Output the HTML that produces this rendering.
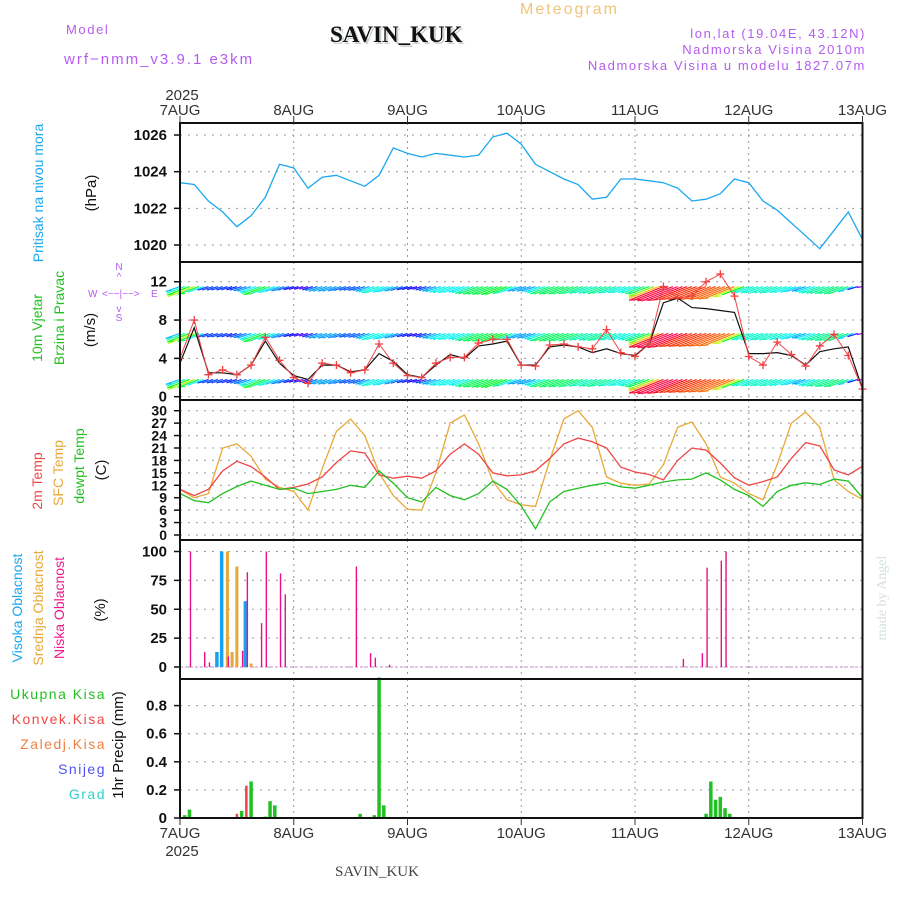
<!DOCTYPE html>
<html><head><meta charset="utf-8"><title>Meteogram SAVIN_KUK</title>
<style>
html,body{margin:0;padding:0;background:#fff;}
svg{display:block;font-family:"Liberation Sans",sans-serif;}
.tk{font-size:15px;fill:#111;text-anchor:end;font-weight:bold;}
.tkt{font-size:14px;fill:#111;text-anchor:end;font-weight:bold;}
.day{font-size:15px;fill:#333;text-anchor:middle;}
.pur{fill:#b45cf0;font-size:13px;letter-spacing:1.6px;}
</style></head>
<body>
<svg id="chart" width="900" height="900" viewBox="0 0 900 900">
  <text x="66" y="34" class="pur">Model</text>
  <text x="64" y="64" class="pur" style="font-size:15px;letter-spacing:2px">wrf−nmm_v3.9.1 e3km</text>
  <text x="520" y="14" style="font-size:16px;fill:#f2c37a;letter-spacing:2px">Meteogram</text>
  <text x="332" y="44" style="font-family:'Liberation Serif',serif;font-size:23px;font-weight:bold;fill:#c9d3c9">SAVIN_KUK</text>
  <text x="330" y="42" style="font-family:'Liberation Serif',serif;font-size:23px;font-weight:bold;fill:#111">SAVIN_KUK</text>
  <text x="866" y="38" class="pur" text-anchor="end">lon,lat (19.04E, 43.12N)</text>
  <text x="866" y="54" class="pur" text-anchor="end">Nadmorska Visina 2010m</text>
  <text x="866" y="70" class="pur" text-anchor="end">Nadmorska Visina u modelu 1827.07m</text>

  <text x="182" y="100" class="day">2025</text>

  <text transform="translate(43,193) rotate(-90)" text-anchor="middle" style="font-size:14px;fill:#1aa7f0">Pritisak na nivou mora</text>
  <text transform="translate(96,193) rotate(-90)" text-anchor="middle" style="font-size:15px;fill:#111">(hPa)</text>
  <text transform="translate(42,328) rotate(-90)" text-anchor="middle" style="font-size:14px;fill:#22c022">10m Vjetar</text>
  <text transform="translate(64,318) rotate(-90)" text-anchor="middle" style="font-size:14px;fill:#22c022">Brzina i Pravac</text>
  <text transform="translate(95,330) rotate(-90)" text-anchor="middle" style="font-size:15px;fill:#111">(m/s)</text>
  <g style="font-size:10px;fill:#b45cf0">
    <text x="119" y="270" text-anchor="middle">N</text>
    <text x="119" y="280" text-anchor="middle">^</text>
    <text x="88" y="297">W</text>
    <text x="102" y="297">&lt;−−|−−&gt;</text>
    <text x="151" y="297">E</text>
    <text x="119" y="312" text-anchor="middle">v</text>
    <text x="119" y="321" text-anchor="middle">S</text>
  </g>
  <text transform="translate(42,481) rotate(-90)" text-anchor="middle" style="font-size:14px;fill:#f04545">2m Temp</text>
  <text transform="translate(63,473) rotate(-90)" text-anchor="middle" style="font-size:14px;fill:#e8a838">SFC Temp</text>
  <text transform="translate(84,466) rotate(-90)" text-anchor="middle" style="font-size:14px;fill:#22c022">dewpt Temp</text>
  <text transform="translate(106,470) rotate(-90)" text-anchor="middle" style="font-size:15px;fill:#111">(C)</text>
  <text transform="translate(22,608) rotate(-90)" text-anchor="middle" style="font-size:14px;fill:#1aa7f0">Visoka Oblacnost</text>
  <text transform="translate(43,608) rotate(-90)" text-anchor="middle" style="font-size:14px;fill:#e8a838">Srednja Oblacnost</text>
  <text transform="translate(64,608) rotate(-90)" text-anchor="middle" style="font-size:14px;fill:#f0188c">Niska Oblacnost</text>
  <text transform="translate(105,610) rotate(-90)" text-anchor="middle" style="font-size:15px;fill:#111">(%)</text>
  <g style="font-size:14px;letter-spacing:1.5px" text-anchor="end">
    <text x="106" y="699" fill="#22c022">Ukupna  Kisa</text>
    <text x="106" y="724" fill="#f04545">Konvek.Kisa</text>
    <text x="106" y="749" fill="#f08040">Zaledj.Kisa</text>
    <text x="106" y="774" fill="#5050f0">Snijeg</text>
    <text x="106" y="799" fill="#30d0d0">Grad</text>
  </g>
  <text transform="translate(123,745) rotate(-90)" text-anchor="middle" style="font-size:15px;fill:#111">1hr Precip (mm)</text>
  <text transform="translate(886,598) rotate(-90)" text-anchor="middle" style="font-family:'Liberation Serif',serif;font-size:14px;fill:#d5e2d5">made by Angel</text>
  <text x="182" y="856" class="day">2025</text>
  <text x="377" y="876" text-anchor="middle" style="font-family:'Liberation Serif',serif;font-size:15px;fill:#444">SAVIN_KUK</text>

  <g id="grid"></g>
  <g id="marks"></g>
  <g id="frames"></g>
</svg>
<script>
const days = ["7AUG","8AUG","9AUG","10AUG","11AUG","12AUG","13AUG"];
const pressureTicks = [1020,1022,1024,1026];
const windTicks = [0,4,8,12];
const tempTicks = [0,3,6,9,12,15,18,21,24,27,30];
const cloudTicks = [0,25,50,75,100];
const precipTicks = [0,0.2,0.4,0.6,0.8];
const pressure = [1023.4,1023.3,1022.4,1021.8,1021.0,1021.6,1022.6,1024.4,1024.2,1023.1,1023.7,1023.8,1023.5,1023.2,1023.8,1025.3,1025.0,1024.8,1025.0,1024.9,1024.8,1024.9,1025.9,1026.1,1025.5,1024.4,1024.0,1023.6,1023.3,1022.5,1022.6,1023.6,1023.6,1023.5,1023.4,1023.1,1022.4,1022.5,1022.8,1023.6,1023.4,1022.4,1021.9,1021.2,1020.5,1019.8,1020.8,1021.8,1020.3];
const windGust = [4,8,2.3,2.8,2.3,3.3,6.2,3.8,2,1.4,3.5,3.3,2.5,2.8,5.5,3.5,2.2,2,3.5,4.1,4.1,5.6,6,6,3.3,3.2,5.4,5.5,5.2,5,7,4.6,4.2,5.5,11.5,10.3,10.5,12,12.8,10.5,4.2,3.3,5.7,4.4,3.2,5.3,6.5,4.3,0.8];
const windSpeed = [3.5,7.2,2.5,2.5,2.3,3.3,5.8,3.5,2.2,1.8,3.3,3.3,2.6,2.8,4.5,3.7,2.3,2,3.3,4.4,4,5.3,5.5,5.8,3.3,3.3,5.2,5.4,5.2,4.6,5,4.5,4.3,5.5,9.8,10.3,9.3,9.2,9,8.8,4.5,4.5,4.6,4.3,3.3,4.7,5,5.2,0.8];
const temp2m = [11,9.5,11,15.5,17.8,16.5,14,11,11.5,12.3,14,17.5,20.3,19.8,14.5,13.7,14.2,13.7,15.5,19.5,22,19.5,15,14.3,14.5,15.5,18.5,22,23.4,22.5,21,16.4,15.2,14.6,13.3,18,21,20.5,17.4,13.8,12,12.9,14,18.5,22.3,21.5,15.7,14.5,16.6];
const tempSfc = [11,9,10,21,22,19,13.5,11.5,10.5,6,16,25,28,24,15,9.5,6.2,6,15,27,29,22,13,8.5,7.3,6.9,18,28,30,26,14,12.5,12,12.3,17,26,27.3,22,14,12.5,10,8.5,17,27,29.7,26,13.3,10.5,8.6];
const tempDew = [10,8.3,7.8,10,11.7,13,12,11,11.3,10,10.5,11,12,11.5,15.5,12.5,9,8,11.5,9.5,8.5,10,13,11,7,1.5,8,10.5,11.3,12,12.6,11.6,11.3,12,12.8,13.3,13.5,15,13.3,11,9.5,6.9,10.5,12,12.6,12.2,13.5,13,9];
const lowCloudHours = [2,5,6,10,13,14,17,18,21,22,37,40,41,44,106,110,111,114,115];
const lowCloudVals = [100,13,4,9,14,82,38,100,81,63,87,12,8,2,7,12,86,92,100];
const midCloudHours = [10,11,12,15];
const midCloudVals = [100,13,87,3];
const highCloudHours = [8,9,14];
const highCloudVals = [13,100,57];
const rainHours = [1,2,13,15,18,19,20,38,41,42,43,111,112,113,114,115,116];
const rainVals = [0.02,0.06,0.05,0.26,0.01,0.12,0.09,0.03,0.02,1.0,0.09,0.03,0.26,0.13,0.15,0.07,0.03];
const convHours = [12,14];
const convVals = [0.03,0.23];

const NS="http://www.w3.org/2000/svg";
const X0=180, X1=862.5;
function xH(h){return X0+h*(X1-X0)/144;}
function yP(v){return 245-(v-1020)*18.33;}
function yW(v){return 396.7-v*9.58;}
function yT(v){return 535-v*4.143;}
function yC(v){return 667-v*1.155;}
function yR(v){return 818-v*140.5;}
const grid=document.getElementById('grid'), marks=document.getElementById('marks'), frames=document.getElementById('frames');
function mk(tag,attrs,parent){const e=document.createElementNS(NS,tag);for(const k in attrs)e.setAttribute(k,attrs[k]);parent.appendChild(e);return e;}

const panels=[
 {top:123,bot:262,ticks:pressureTicks,y:yP,fmt:v=>String(v),cls:'tk',name:'pressure'},
 {top:262,bot:400,ticks:windTicks,y:yW,fmt:v=>String(v),cls:'tk',name:'wind'},
 {top:400,bot:540,ticks:tempTicks,y:yT,fmt:v=>String(v),cls:'tkt',name:'temp'},
 {top:540,bot:679,ticks:cloudTicks,y:yC,fmt:v=>String(v),cls:'tk',name:'cloud'},
 {top:679,bot:818,ticks:precipTicks,y:yR,fmt:v=>v===0?'0':v.toFixed(1),cls:'tk',name:'precip'}
];
panels.forEach(p=>{
  for(let d=1;d<6;d++){
    const l=mk('line',{x1:xH(d*24),x2:xH(d*24),y1:p.top,y2:p.bot,stroke:'#999','stroke-dasharray':'2,4','stroke-width':1},grid);
    
    
  }
  p.ticks.forEach(v=>{
    const y=p.y(v);
    const g=mk('line',{x1:X0,x2:X1,y1:y,y2:y,stroke:'#999','stroke-dasharray':'2,6','stroke-width':1},grid);
    
    
    mk('line',{x1:X0-6,x2:X0,y1:y,y2:y,stroke:'#111','stroke-width':1.5},frames);
    const t=mk('text',{x:X0-13,y:y+5,class:p.cls},frames);
    t.textContent=p.fmt(v);
    
    
  });
  const r=mk('rect',{x:X0,y:p.top,width:X1-X0,height:p.bot-p.top,fill:'none',stroke:'#111','stroke-width':2},frames);
  
  
});
days.forEach((d,i)=>{
  const x=xH(i*24);
  mk('line',{x1:x,x2:x,y1:116,y2:123,stroke:'#333','stroke-width':1},frames);
  mk('line',{x1:x,x2:x,y1:818,y2:825,stroke:'#333','stroke-width':1},frames);
  const t=mk('text',{x:x,y:115,class:'day'},frames);t.textContent=d;
  
  
  const b=mk('text',{x:x,y:838,class:'day'},frames);b.textContent=d;
  
  
});

function poly(arr,yf,color,w,name){
  const pts=arr.map((v,i)=>xH(i*3).toFixed(1)+','+yf(v).toFixed(1)).join(' ');
  const e=mk('polyline',{points:pts,fill:'none',stroke:color,'stroke-width':w},marks);
  
  
  return e;
}
function interp(arr,h){const i=Math.floor(h/3),f=h/3-i;if(i>=arr.length-1)return arr[arr.length-1];return arr[i]*(1-f)+arr[i+1]*f;}
function hue(s){const st=[[0,280],[1.5,270],[2.5,225],[3.5,195],[4.5,170],[6,120],[7.5,70],[8.5,40],[9.5,0],[11,-35]];
  if(s<=0)return 280;for(let i=0;i<st.length-1;i++){if(s<=st[i+1][0]){const f=(s-st[i][0])/(st[i+1][0]-st[i][0]);return (st[i][1]*(1-f)+st[i+1][1]*f+360)%360;}}return 325;}

poly(pressure,yP,'#1aa7f0',1.3,'pressure-line');
[11.5,6.6,1.8].forEach((band,bi)=>{
  const by=yW(band);
  for(let h=0;h<=144;h+=1){
    const s=interp(windSpeed,h);
    const x=xH(h);
    const c='hsl('+hue(s).toFixed(0)+',95%,52%)';
    const ln=mk('line',{x1:x,y1:by,x2:x-3-s*3.2,y2:by+s*1.4,stroke:c,'stroke-width':1.2},marks);
    
    
    if(h%2===0){
      const hd=mk('line',{x1:x-3-s*3.2,y1:by+s*1.4,x2:x-s*2.4,y2:by+s*1.4-1,stroke:c,'stroke-width':1},marks);
      
      
    }
  }
});
poly(windSpeed,yW,'#111',1.2,'wind-speed-line');
poly(windGust,yW,'#f04545',1,'wind-gust-line');
windGust.forEach((v,i)=>{
  const x=xH(i*3),y=yW(v);
  const p=mk('path',{d:`M${x-4},${y}H${x+4}M${x},${y-4}V${y+4}`,stroke:'#f04040','stroke-width':1.3,fill:'none'},marks);
  
  
});
poly(tempSfc,yT,'#e8a838',1.3,'sfc-temp-line');
poly(temp2m,yT,'#f04545',1.3,'temp-2m-line');
poly(tempDew,yT,'#22c022',1.3,'dewpoint-line');
const cb=mk('line',{x1:X0,x2:X1,y1:yC(0),y2:yC(0),stroke:'#d0a0d8','stroke-width':1.2,'stroke-dasharray':'3,2'},marks);


function bars(hours,vals,yf,color,w,off,name){
  hours.forEach((h,i)=>{
    const x=xH(h)+off,y=yf(vals[i]),y0=yf(0);
    const r=mk('rect',{x:x-w/2,y:y,width:w,height:Math.max(0,y0-y),fill:color},marks);
    
    
  });
}
bars(highCloudHours,highCloudVals,yC,'#1aa0f0',3.5,-1,'high-cloud-bar');
bars(midCloudHours,midCloudVals,yC,'#e8a838',3,0,'mid-cloud-bar');
bars(lowCloudHours,lowCloudVals,yC,'#e8108a',1.4,1,'low-cloud-bar');
bars(rainHours,rainVals,yR,'#22c022',3.5,0,'total-precip-bar');
bars(convHours,convVals,yR,'#f04545',2.5,0,'convective-precip-bar');
</script>
</body></html>
